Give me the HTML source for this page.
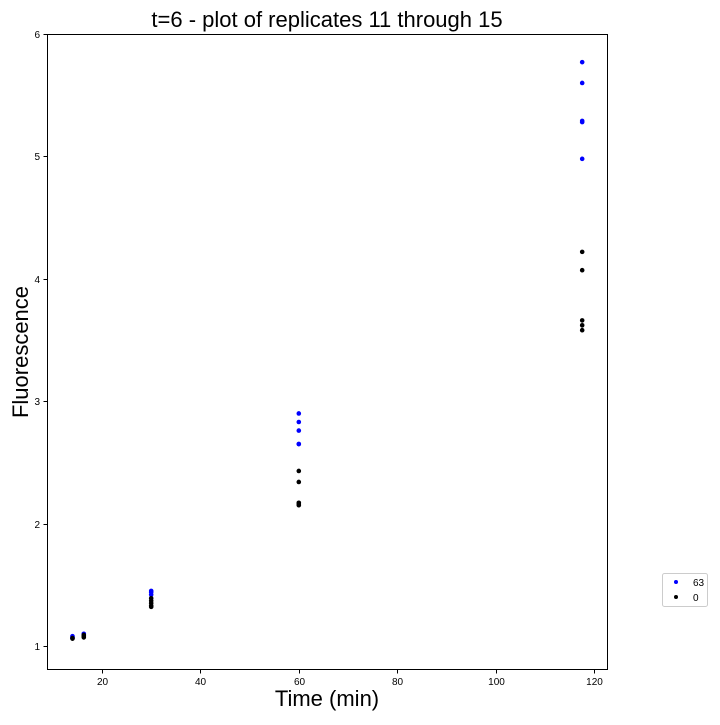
<!DOCTYPE html>
<html><head><meta charset="utf-8"><style>
body{margin:0;background:#fff;font-family:"Liberation Sans",Arial,sans-serif}
</style></head><body>
<svg width="720" height="720" xmlns="http://www.w3.org/2000/svg" font-family="Liberation Sans, Arial, sans-serif">
<rect width="720" height="720" fill="#fff"/>
<text x="327" y="27" font-size="22" text-anchor="middle">t=6 - plot of replicates 11 through 15</text>
<g id="axes"></g>
<g id="pts"></g>
<text x="327" y="706" font-size="22" text-anchor="middle">Time (min)</text>
<text x="28" y="352" font-size="22" text-anchor="middle" transform="rotate(-90 28 352)">Fluorescence</text>
<g>
<rect x="662.5" y="573.5" width="45" height="33" rx="2" fill="#fff" stroke="#ccc"/>
<circle cx="676" cy="582" r="2" fill="#0000ff"/>
<text x="693" y="586" font-size="10">63</text>
<circle cx="676" cy="597" r="2" fill="#000"/>
<text x="693" y="601" font-size="10">0</text>
</g>
</svg>
<script>
const xTicks=[20,40,60,80,100,120];
const yTicks=[1,2,3,4,5,6];
const blueX=[14,14,16.3,16.3,30,30,30,60,60,60,60,60,117.6,117.6,117.6,117.6,117.6];
const blueY=[1.08,1.07,1.10,1.09,1.45,1.44,1.42,2.90,2.83,2.76,2.65,2.65,5.77,5.60,5.29,5.28,4.98];
const blackX=[14,14,16.3,16.3,16.3,30,30,30,30,30,60,60,60,60,60,117.6,117.6,117.6,117.6,117.6];
const blackY=[1.06,1.065,1.08,1.09,1.07,1.39,1.37,1.35,1.33,1.32,2.43,2.34,2.17,2.16,2.15,4.22,4.07,3.66,3.62,3.58];
const L=47,R=607,T=34,B=669;
const sx=v=>3.6+v*4.92;
const sy=v=>646-(v-1)*122.4;
const NS="http://www.w3.org/2000/svg";
function mk(t,a,p){const e=document.createElementNS(NS,t);for(const k in a)e.setAttribute(k,a[k]);p.appendChild(e);return e;}
const ax=document.getElementById('axes');
const fr=mk('rect',{x:L+0.5,y:T+0.5,width:R-L,height:B-T,fill:'none',stroke:'#000','stroke-width':1},ax);


xTicks.forEach(v=>{const x=Math.round(sx(v))+0.5;
const l=mk('line',{x1:x,x2:x,y1:B+0.5,y2:B+4.5,stroke:'#000'},ax);


const t=mk('text',{x:x,y:B+16,'font-size':10,'text-anchor':'middle'},ax);t.textContent=v;

});
yTicks.forEach(v=>{const y=Math.round(sy(v))+0.5;
const l=mk('line',{x1:L-3.5,x2:L+0.5,y1:y,y2:y,stroke:'#000'},ax);


const t=mk('text',{x:L-7,y:y+3.5,'font-size':10,'text-anchor':'end'},ax);t.textContent=v;

});
const pg=document.getElementById('pts');
blueX.forEach((x,i)=>{const c=mk('circle',{cx:sx(x),cy:sy(blueY[i]),r:2.3,fill:'#0000ff'},pg);

});
blackX.forEach((x,i)=>{const c=mk('circle',{cx:sx(x),cy:sy(blackY[i]),r:2.3,fill:'#000'},pg);

});
</script>
</body></html>
